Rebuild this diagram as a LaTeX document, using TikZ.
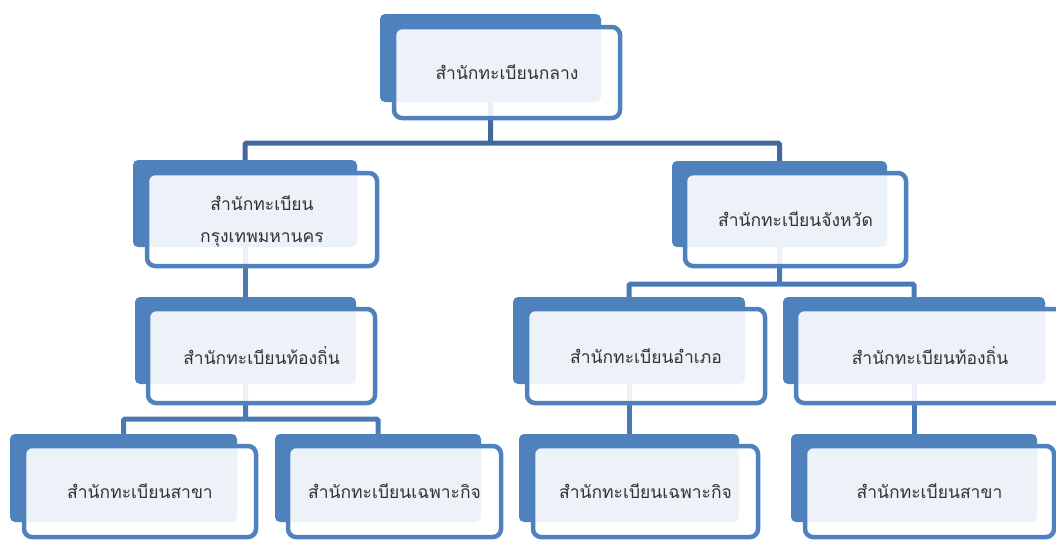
\documentclass[tikz,border=0pt]{standalone}
\usepackage{fontspec}
\newfontfamily\thaifont[Script=Thai]{Loma}
\usetikzlibrary{fit,backgrounds}
\definecolor{bblue}{HTML}{4F81BD}
\definecolor{cblueA}{HTML}{41699D}
\definecolor{cblueB}{HTML}{4A7AB5}
\definecolor{txt}{HTML}{333333}
\tikzset{
  backbox/.style={fill=bblue, draw=none, rounded corners=5pt, inner sep=0pt, outer sep=0pt},
  frontbox/.style={draw=bblue, line width=4.5pt, fill=white, fill opacity=0.9,
    rounded corners=8pt, inner sep=0pt},
  lbl/.style={inner sep=0pt, text=txt, align=center,
    font=\thaifont\fontsize{17.5}{32}\selectfont},
  connA/.style={draw=cblueA, line width=5pt, rounded corners=1.5pt},
  connB/.style={draw=cblueB, line width=5pt, rounded corners=1.5pt},
}
\begin{document}
\begin{tikzpicture}[x=1pt,y=-1pt]
\useasboundingbox (0,0) rectangle (1056,539);
\clip (0,0) rectangle (1056,539);
\coordinate (bus1) at (0,143);
\coordinate (bus2) at (0,284);
\coordinate (bus3) at (0,419);
% level 1
\node[backbox, fit={(380,14) (601,102)}] (n1b) {};
\node[frontbox, fit={(394,27) (620,118)}] (n1) {};
\node[lbl] (n1t) at (n1.center) {สำนักทะเบียนกลาง};
% level 2
\node[backbox, fit={(133,160) (357,247)}] (n2b) {};
\node[frontbox, fit={(147,173) (377,266)}] (n2) {};
\node[lbl, yshift=-2pt] (n2t) at (n2.center) {สำนักทะเบียน\\กรุงเทพมหานคร};
\node[backbox, fit={(672,161) (887,247)}] (n3b) {};
\node[frontbox, fit={(685,173) (906,266)}] (n3) {};
\node[lbl] (n3t) at (n3.center) {สำนักทะเบียนจังหวัด};
% level 3
\node[backbox, fit={(135,297) (356,384)}] (n4b) {};
\node[frontbox, fit={(148,309) (375,403)}] (n4) {};
\node[lbl] (n4t) at (n4.center) {สำนักทะเบียนท้องถิ่น};
\node[backbox, fit={(513,297) (745,384)}] (n7b) {};
\node[frontbox, fit={(527,309) (765,403)}] (n7) {};
\node[lbl] (n7t) at (n7.center) {สำนักทะเบียนอำเภอ};
\node[backbox, fit={(783,297) (1045,384)}] (n8b) {};
\node[frontbox, fit={(796,309) (1064,403)}] (n8) {};
\node[lbl] (n8t) at (n8.center) {สำนักทะเบียนท้องถิ่น};
% level 4
\node[backbox, fit={(10,434) (237,522)}] (n5b) {};
\node[frontbox, fit={(24,446) (256,537)}] (n5) {};
\node[lbl] (n5t) at (n5.center) {สำนักทะเบียนสาขา};
\node[backbox, fit={(275,434) (481,522)}] (n6b) {};
\node[frontbox, fit={(288,446) (501,537)}] (n6) {};
\node[lbl] (n6t) at (n6.center) {สำนักทะเบียนเฉพาะกิจ};
\node[backbox, fit={(519,434) (739,522)}] (n9b) {};
\node[frontbox, fit={(533,446) (758,537)}] (n9) {};
\node[lbl] (n9t) at (n9.center) {สำนักทะเบียนเฉพาะกิจ};
\node[backbox, fit={(791,434) (1037,522)}] (n10b) {};
\node[frontbox, fit={(805,446) (1054,537)}] (n10) {};
\node[lbl] (n10t) at (n10.center) {สำนักทะเบียนสาขา};
% connectors
\begin{pgfonlayer}{background}
\draw[connA] (n1b.center) -- (n1b.center |- bus1) -| (n2b.center);
\draw[connA] (n1b.center |- bus1) -| (n3b.center);
\draw[connB] (n2b.center) -- (n2b.center |- n4b.center);
\draw[connB] (n4b.center) -- (n4b.center |- bus3) -| (n5b.center);
\draw[connB] (n4b.center |- bus3) -| (n6b.center);
\draw[connB] (n3b.center) -- (n3b.center |- bus2) -| (n7b.center);
\draw[connB] (n3b.center |- bus2) -| (n8b.center);
\draw[connB] (n7b.center) -- (n7b.center |- n9b.center);
\draw[connB] (n8b.center) -- (n8b.center |- n10b.center);
\end{pgfonlayer}
\end{tikzpicture}
\end{document}
